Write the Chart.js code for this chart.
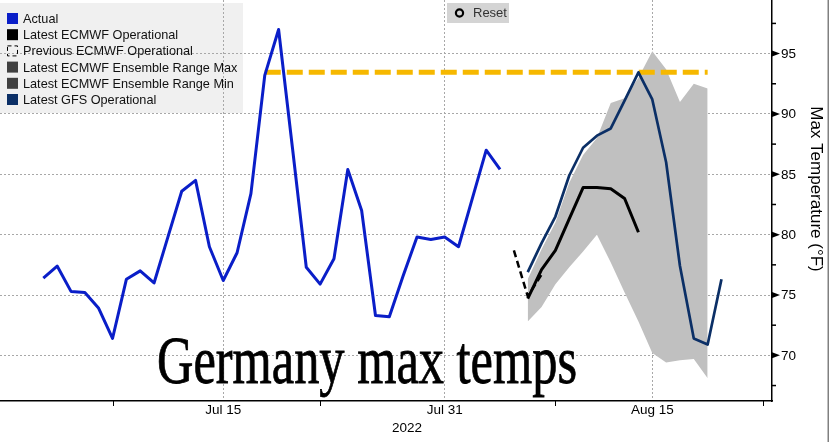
<!DOCTYPE html>
<html><head><meta charset="utf-8">
<script src="https://cdn.jsdelivr.net/npm/chart.js@4/dist/chart.umd.min.js"></script>
<style>
html,body{margin:0;padding:0;background:#fff;overflow:hidden}
#wrap{position:relative;width:830px;height:442px}
canvas{display:block}
</style></head><body>
<div id="wrap"><canvas id="c" width="830" height="442"></canvas></div>
<script>
// ---------- data ----------
const actualDates = ['2022-07-02','2022-07-03','2022-07-04','2022-07-05','2022-07-06','2022-07-07','2022-07-08','2022-07-09','2022-07-10','2022-07-11','2022-07-12','2022-07-13','2022-07-14','2022-07-15','2022-07-16','2022-07-17','2022-07-18','2022-07-19','2022-07-20','2022-07-21','2022-07-22','2022-07-23','2022-07-24','2022-07-25','2022-07-26','2022-07-27','2022-07-28','2022-07-29','2022-07-30','2022-07-31','2022-08-01','2022-08-02','2022-08-03','2022-08-04'];
const actualTemps = [76.4,77.4,75.3,75.2,73.9,71.4,76.3,77.0,76.0,79.8,83.6,84.5,79.0,76.2,78.5,83.4,93.2,97.0,87.2,77.3,75.9,78.0,85.4,82.0,73.3,73.2,76.6,79.8,79.6,79.8,79.0,83.0,87.0,85.4];

const ecmwfDates = ['2022-08-06','2022-08-07','2022-08-08','2022-08-09','2022-08-10','2022-08-11','2022-08-12','2022-08-13','2022-08-14'];
const ecmwfTemps = [74.7,77.1,78.7,81.3,83.9,83.9,83.8,83.0,80.2];

const prevEcmwfDates = ['2022-08-05','2022-08-06','2022-08-07'];
const prevEcmwfTemps = [78.7,74.9,76.7];

const ensDates = ['2022-08-06','2022-08-07','2022-08-08','2022-08-09','2022-08-10','2022-08-11','2022-08-12','2022-08-13','2022-08-14','2022-08-15','2022-08-16','2022-08-17','2022-08-18','2022-08-19'];
const ensMax = [76.3,78.8,81.0,84.3,86.6,88.0,90.9,91.3,93.0,95.2,93.7,91.0,92.5,92.1];
const ensMin = [72.8,74.0,75.9,77.3,78.6,80.0,77.7,75.2,72.8,70.2,69.4,69.6,69.7,68.1];

const gfsDates = ['2022-08-06','2022-08-07','2022-08-08','2022-08-09','2022-08-10','2022-08-11','2022-08-12','2022-08-13','2022-08-14','2022-08-15','2022-08-16','2022-08-17','2022-08-18','2022-08-19','2022-08-20'];
const gfsTemps = [76.9,79.3,81.5,84.9,87.2,88.2,88.8,91.1,93.45,91.2,86.0,77.4,71.4,70.9,76.3];

const highlightDates = ['2022-07-18','2022-08-19'];
const highlightTemps = [93.45,93.45];

const xTickDates = ['2022-07-15','2022-07-31','2022-08-15'];
const xTickLabels = ['Jul 15','Jul 31','Aug 15'];
const xMinorTickDates = ['2022-07-07','2022-07-22','2022-08-08','2022-08-23'];
const xYearLabel = '2022';
const yTickValues = [70,75,80,85,90,95];
const yMinorTickValues = [67.5,72.5,77.5,82.5,87.5,92.5,97.5];
const yAxisTitle = 'Max Temperature (°F)';
const chartTitle = 'Germany max temps';
const legendLabels = ['Actual','Latest ECMWF Operational','Previous ECMWF Operational','Latest ECMWF Ensemble Range Max','Latest ECMWF Ensemble Range Min','Latest GFS Operational'];

// ---------- helpers ----------
const BASE = Date.UTC(2022,6,1);
function dayNum(s){ const p=s.split('-').map(Number); return (Date.UTC(p[0],p[1]-1,p[2])-BASE)/864e5; }
function pts(dates, vals){ return dates.map((d,i)=>({x:dayNum(d), y:vals[i]})); }

const X_MIN = -2.13, X_MAX = 53.65, Y_MIN = 66.22, Y_MAX = 99.44;

const C_ACTUAL = '#0a1ec8', C_ECMWF = '#000000', C_GFS = '#0b2f66', C_ENS = '#c0c0c0', C_ENS_LEG = '#404040', C_HL = '#f6b800';
const FONT = '"Liberation Sans", Arial, sans-serif';

const decor = {
  id: 'decor',
  beforeDraw(chart){
    const ctx = chart.ctx;
    ctx.save();
    ctx.fillStyle = '#fff';
    ctx.fillRect(0,0,chart.width,chart.height);
    ctx.fillStyle = '#f0f0f0';
    ctx.fillRect(0,3,243,110);
    ctx.fillStyle = '#d4d4d4';
    ctx.fillRect(447,3,62,20);
    ctx.restore();
  },
  afterDraw(chart){
    const ctx = chart.ctx, xs = chart.scales.x, ys = chart.scales.y;
    const ax = chart.chartArea.right, ay = chart.chartArea.bottom;
    ctx.save();
    ctx.fillStyle = '#000'; ctx.strokeStyle = '#000';
    yMinorTickValues.forEach(v=>{
      const y = ys.getPixelForValue(v);
      ctx.lineWidth = 1.5;
      ctx.beginPath(); ctx.moveTo(ax, y); ctx.lineTo(ax+4, y); ctx.stroke();
    });
    ctx.font = '13.5px ' + FONT;
    ctx.textBaseline = 'middle'; ctx.textAlign = 'left';
    yTickValues.forEach(v=>{
      const y = ys.getPixelForValue(v);
      ctx.beginPath(); ctx.moveTo(ax, y-3); ctx.lineTo(ax+8, y); ctx.lineTo(ax, y+3); ctx.closePath(); ctx.fill();
      ctx.fillText(String(v), ax+9, y+0.5);
    });
    ctx.save();
    ctx.translate(815.5, 189);
    ctx.rotate(Math.PI/2);
    ctx.textAlign = 'center'; ctx.textBaseline = 'middle';
    ctx.font = '17px ' + FONT;
    ctx.fillText(yAxisTitle, 0, 0);
    ctx.restore();
    ctx.lineWidth = 1;
    xMinorTickDates.forEach(d=>{
      const x = Math.round(xs.getPixelForValue(dayNum(d)))+0.5;
      ctx.beginPath(); ctx.moveTo(x, ay); ctx.lineTo(x, ay+5); ctx.stroke();
    });
    ctx.font = '13.5px ' + FONT;
    ctx.textAlign = 'center'; ctx.textBaseline = 'middle';
    xTickDates.forEach((d,i)=>{
      ctx.fillText(xTickLabels[i], xs.getPixelForValue(dayNum(d)), ay+9);
    });
    ctx.fillText(xYearLabel, 407, ay+27);
    const legColors = [C_ACTUAL, C_ECMWF, null, C_ENS_LEG, C_ENS_LEG, C_GFS];
    ctx.font = '12.7px ' + FONT;
    ctx.textAlign = 'left'; ctx.textBaseline = 'middle';
    legendLabels.forEach((t,i)=>{
      const cy = 18.5 + i*16.2;
      if (legColors[i]) { ctx.fillStyle = legColors[i]; ctx.fillRect(7, cy-5.5, 11, 11); }
      else {
        ctx.strokeStyle = '#000'; ctx.lineWidth = 1; ctx.setLineDash([4,3]);
        ctx.strokeRect(7.5, cy-5, 10, 10); ctx.setLineDash([]);
      }
      ctx.fillStyle = '#111';
      ctx.fillText(t, 23, cy+1);
    });
    ctx.strokeStyle = '#000'; ctx.lineWidth = 2.2;
    ctx.beginPath(); ctx.arc(459.5, 13, 3.6, 0, Math.PI*2); ctx.stroke();
    ctx.fillStyle = '#333'; ctx.font = '13px ' + FONT;
    ctx.fillText('Reset', 473, 13.5);
    ctx.fillStyle = '#000';
    ctx.font = '68px "Liberation Serif", "Times New Roman", serif';
    ctx.textAlign = 'left'; ctx.textBaseline = 'alphabetic';
    const w = ctx.measureText(chartTitle).width;
    ctx.save();
    ctx.translate(157, 383);
    ctx.scale(420/w, 1);
    ctx.lineWidth = 0.8; ctx.strokeStyle = '#000';
    ctx.fillText(chartTitle, 0, 0);
    ctx.strokeText(chartTitle, 0, 0);
    ctx.restore();
    ctx.fillStyle = '#808080';
    ctx.fillRect(827.5, 0, 1.5, 442);
    ctx.restore();
  }
};

const lineBase = {pointRadius:0, pointHoverRadius:0, tension:0, fill:false, borderJoinStyle:'round'};

new Chart(document.getElementById('c'), {
  type: 'line',
  data: {
    datasets: [
      Object.assign({}, lineBase, {label: legendLabels[0], data: pts(actualDates, actualTemps), borderColor: C_ACTUAL, borderWidth: 3, order: 1}),
      Object.assign({}, lineBase, {label: legendLabels[1], data: pts(ecmwfDates, ecmwfTemps), borderColor: C_ECMWF, borderWidth: 3, order: 2}),
      Object.assign({}, lineBase, {label: legendLabels[2], data: pts(prevEcmwfDates, prevEcmwfTemps), borderColor: C_ECMWF, borderWidth: 2.5, borderDash:[7,4], order: 3}),
      Object.assign({}, lineBase, {label: legendLabels[3], data: pts(ensDates, ensMax), borderWidth: 0, borderColor: 'rgba(0,0,0,0)', backgroundColor: C_ENS, fill: '+1', order: 10}),
      Object.assign({}, lineBase, {label: legendLabels[4], data: pts(ensDates, ensMin), borderWidth: 0, borderColor: 'rgba(0,0,0,0)', order: 11}),
      Object.assign({}, lineBase, {label: legendLabels[5], data: pts(gfsDates, gfsTemps), borderColor: C_GFS, borderWidth: 2.7, order: 0}),
      Object.assign({}, lineBase, {label: 'highlight', data: pts(highlightDates, highlightTemps), borderColor: C_HL, borderWidth: 5, borderDash:[16,6], borderCapStyle:'butt', order: 5})
    ]
  },
  options: {
    responsive: false, devicePixelRatio: 1, animation: false,
    layout: {padding: 0},
    plugins: {legend: {display: false}, tooltip: {enabled: false}},
    scales: {
      x: {
        type: 'linear', min: X_MIN, max: X_MAX,
        afterBuildTicks: s => { s.ticks = xTickDates.map(d => ({value: dayNum(d)})); },
        ticks: {display: false},
        grid: {color: '#a8a8a8', lineWidth: 1, drawTicks: false},
        border: {display: true, color: '#000', width: 1.5, dash: [2,2]},
        afterFit: s => { s.height = 41; s.paddingLeft = 0; s.paddingRight = 0; }
      },
      y: {
        type: 'linear', position: 'right', min: Y_MIN, max: Y_MAX,
        afterBuildTicks: s => { s.ticks = yTickValues.map(v => ({value: v})); },
        ticks: {display: false},
        grid: {color: '#a8a8a8', lineWidth: 1, drawTicks: false},
        border: {display: true, color: '#000', width: 1.5, dash: [2,2]},
        afterFit: s => { s.width = 58; s.paddingTop = 0; s.paddingBottom = 0; }
      }
    }
  },
  plugins: [decor]
});
</script></body></html>
